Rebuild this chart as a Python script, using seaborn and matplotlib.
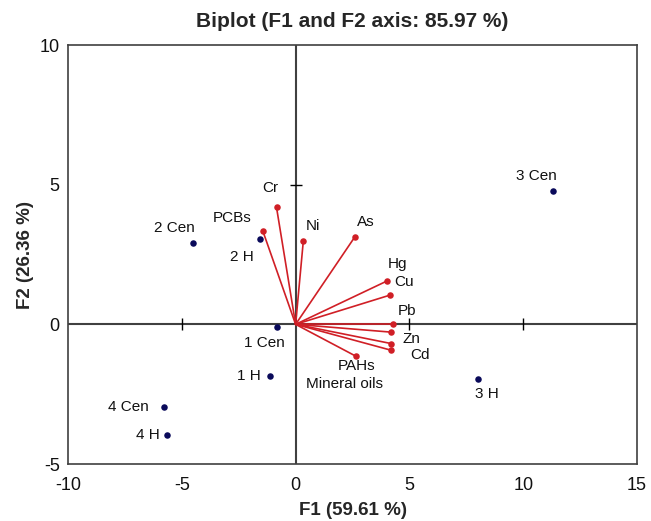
import numpy as np
import pandas as pd
import matplotlib
matplotlib.use("Agg")
import matplotlib.pyplot as plt
import seaborn as sns

# observations (F1, F2)
obs_names = ["1 Cen", "1 H", "2 Cen", "2 H", "3 Cen", "3 H", "4 Cen", "4 H"]
obs_f1 = [-0.84, -1.13, -4.52, -1.55, 11.32, 8.00, -5.80, -5.67]
obs_f2 = [-0.10, -1.84, 2.90, 3.05, 4.79, -1.96, -2.95, -3.95]

# variables (vectors)
var_names = ["Cr", "PCBs", "Ni", "As", "Hg", "Cu", "Pb", "Zn", "Cd", "PAHs", "Mineral oils"]
var_f1 = [-0.84, -1.44, 0.34, 2.61, 4.01, 4.16, 4.28, 4.21, 4.21, 4.21, 2.67]
var_f2 = [4.19, 3.34, 3.00, 3.14, 1.55, 1.05, 0.00, -0.28, -0.69, -0.93, -1.15]

# label offsets in pixels (dx, dy) relative to the point
obs_off = [(-12, -16), (-21, 0), (-18, 15), (-18, -18), (-17, 15), (9, -15), (-35, 0), (-19, 0)]
var_off = [(-6, 19), (-31, 13), (10, 15), (11, 15), (11, 17), (14, 13), (14, 13), (20, -7),
           (29, -11), (-35, -16), (-12, -28)]

sns.set_style("white")
plt.rcParams['font.family'] = ['Liberation Sans', 'DejaVu Sans']
plt.rcParams['axes.unicode_minus'] = False

fig = plt.figure(figsize=(6.51, 5.21), dpi=100)
ax = fig.add_axes([0.1045, 0.1094, 0.8740, 0.8042])

axis_col = "#404040"
red = "#d01f26"
navy = "#0a0a5a"

ax.axhline(0, color=axis_col, lw=1.5, zorder=1)
ax.axvline(0, color=axis_col, lw=1.5, zorder=1)
# small tick marks on the centre axes
xt = [-5, 5, 10]
yt = [5]
ax.plot(xt, [0] * len(xt), ls="none", marker="|", ms=9, mew=1.0, color="black", zorder=2)
ax.plot([0] * len(yt), yt, ls="none", marker="_", ms=9, mew=1.0, color="black", zorder=2)

for x, y in zip(var_f1, var_f2):
    ax.plot([0, x], [0, y], color=red, lw=1.2, zorder=3)
vars_df = pd.DataFrame({"F1": var_f1, "F2": var_f2})
sns.scatterplot(data=vars_df, x="F1", y="F2", color=red, s=22, edgecolor=red, linewidth=0, ax=ax, zorder=4)

obs_df = pd.DataFrame({"F1": obs_f1, "F2": obs_f2})
sns.scatterplot(data=obs_df, x="F1", y="F2", color=navy, s=22, edgecolor=navy, linewidth=0, ax=ax, zorder=4)

for name, x, y, (dx, dy) in zip(obs_names, obs_f1, obs_f2, obs_off):
    ax.annotate(name, (x, y), xytext=(dx * 0.72, dy * 0.72), textcoords="offset points",
                ha="center", va="center", fontsize=11, color="#111111")
for name, x, y, (dx, dy) in zip(var_names, var_f1, var_f2, var_off):
    ax.annotate(name, (x, y), xytext=(dx * 0.72, dy * 0.72), textcoords="offset points",
                ha="center", va="center", fontsize=11, color="#111111")

ax.set_xlim(-10, 15)
ax.set_ylim(-5, 10)
ax.set_xticks([-10, -5, 0, 5, 10, 15])
ax.set_yticks([-5, 0, 5, 10])
ax.tick_params(length=0, labelsize=13, colors="#111111")
ax.tick_params(axis="x", pad=9)
ax.tick_params(axis="y", pad=6)
for s in ax.spines.values():
    s.set_color(axis_col)
    s.set_linewidth(1.2)

ax.set_xlabel("F1 (59.61 %)", fontsize=13.5, fontweight="bold", labelpad=6)
ax.set_ylabel("F2 (26.36 %)", fontsize=13.5, fontweight="bold", labelpad=4)
ax.set_title("Biplot (F1 and F2 axis: 85.97 %)", fontsize=15, fontweight="bold", pad=13)

fig.savefig("out.png", dpi=100)
